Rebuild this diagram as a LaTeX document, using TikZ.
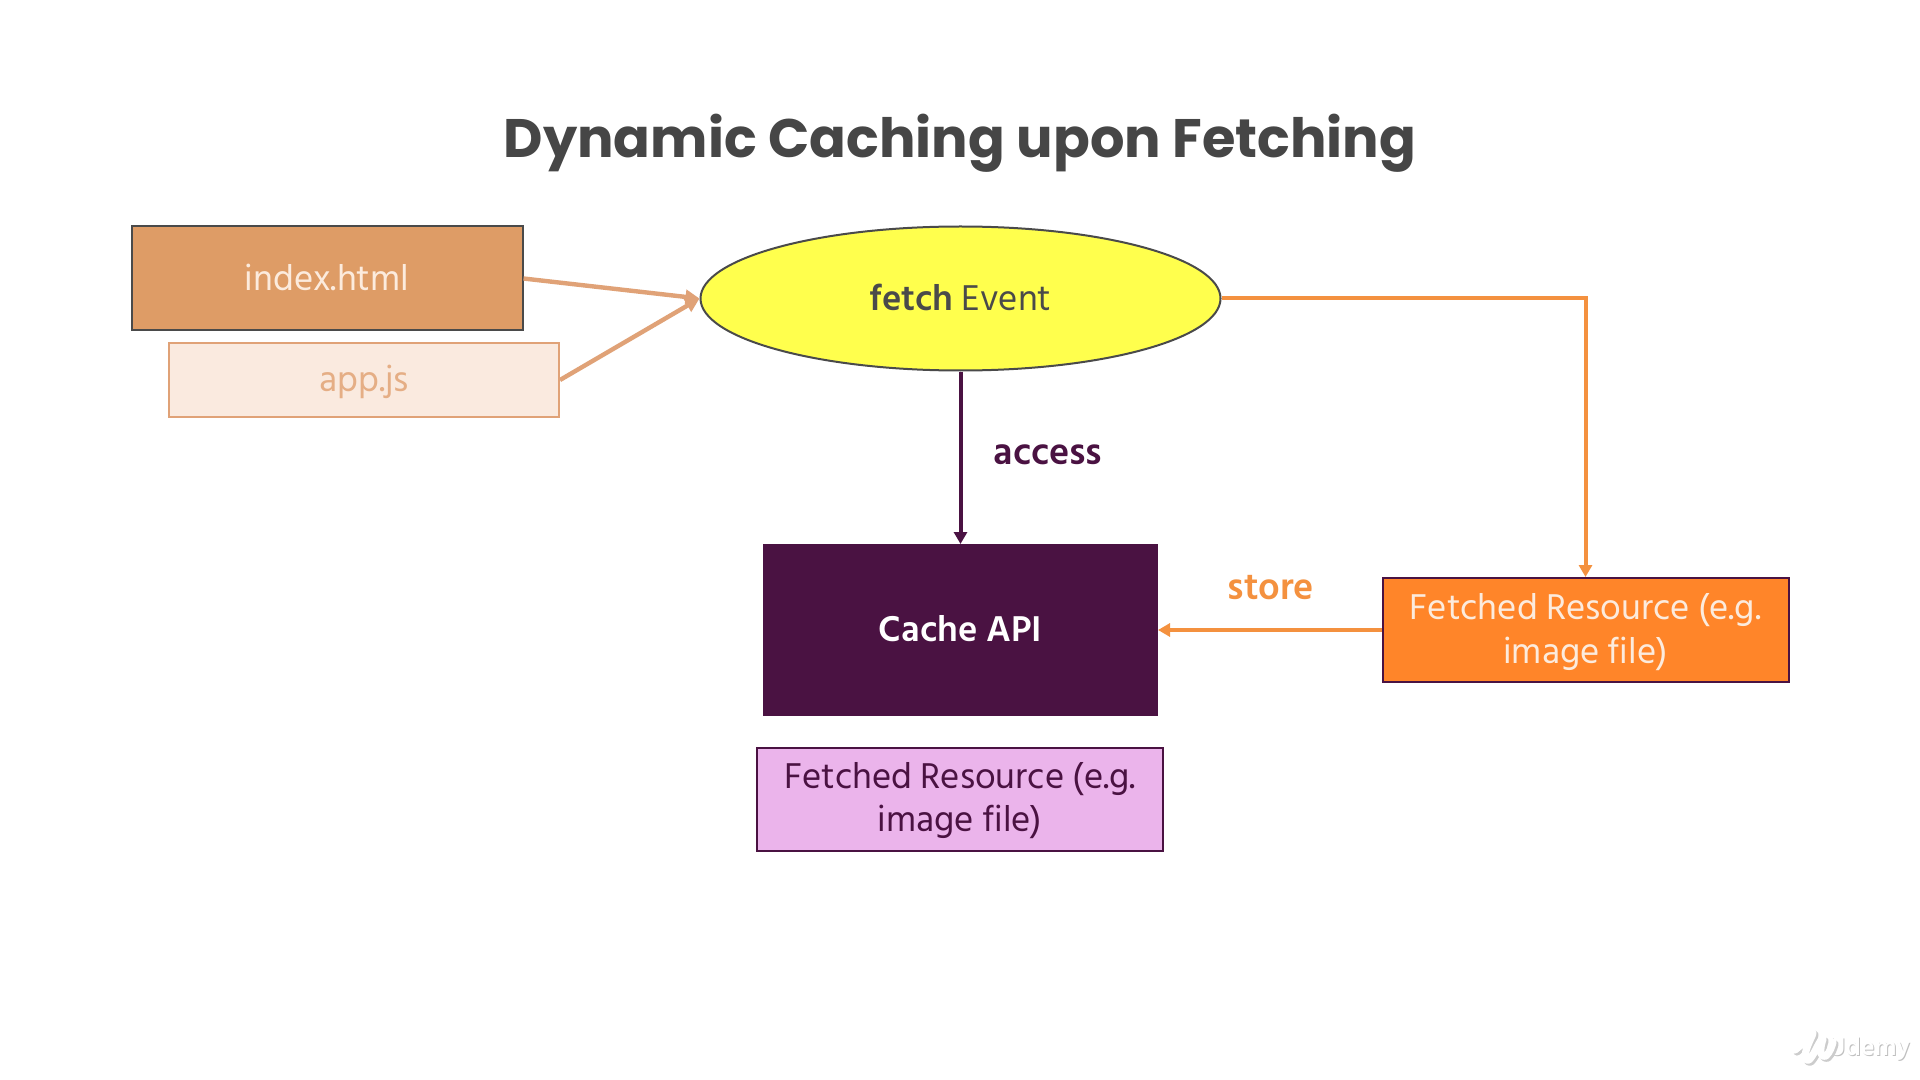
\documentclass[tikz,border=0pt]{standalone}
\usepackage{fontspec}
\usetikzlibrary{arrows.meta,shapes.geometric,calc,shadows}
\setmainfont{Hind Siliguri}
\newfontfamily\titlefont{Poppins}
\newcommand{\liftby}[2]{\smash{\raisebox{#1}{#2}}}
\definecolor{peach}{HTML}{DE9C66}
\definecolor{peachline}{HTML}{E0A277}
\definecolor{paleback}{HTML}{FAEADF}
\definecolor{paletext}{HTML}{E5AE85}
\definecolor{lemon}{HTML}{FFFF4D}
\definecolor{plum}{HTML}{4A1242}
\definecolor{pinkfill}{HTML}{EBB4EB}
\definecolor{orangefill}{HTML}{FF8529}
\definecolor{orangeline}{HTML}{F4913F}
\definecolor{greyline}{HTML}{4A4A4A}
\definecolor{softwhite}{HTML}{FCEBDD}
\tikzset{
  box/.style={rectangle,inner sep=0pt,align=center,font=\fontsize{18.4}{21.8}\selectfont,line width=1pt},
  peachcon/.style={draw=peachline,line width=2.2pt,-{Triangle[length=7pt,width=7pt]}},
  orangecon/.style={draw=orangeline,line width=2pt,-{Triangle[length=6pt,width=6.5pt]}},
  plumcon/.style={draw=plum,line width=2pt,-{Triangle[length=6pt,width=6.5pt]}},
  caption/.style={inner sep=0pt,font=\fontsize{19.2}{22}\selectfont\bfseries}
}
\begin{document}
\begin{tikzpicture}[x=0.5pt,y=-0.5pt]
\useasboundingbox (0,0) rectangle (1920,1080);
\fill[white] (0,0) rectangle (1920,1080);
\node[inner sep=0pt,text=greyline!95!black] (title) at (960,143) {\titlefont\fontsize{27.1}{32}\selectfont\bfseries Dynamic Caching upon Fetching};
\node[box,draw=greyline,fill=peach,text=softwhite,minimum width=195.5pt,minimum height=52pt] (index) at (327,278.5) {\liftby{-6pt}{index.html}};
\node[box,draw=peachline,fill=paleback,text=paletext,minimum width=195pt,minimum height=36.5pt] (app) at (364,380) {\liftby{-5.6pt}{app.js}};
\node[ellipse,draw=greyline,fill=lemon,line width=1pt,inner sep=0pt,minimum width=260pt,minimum height=72pt,font=\fontsize{18.4}{22}\selectfont,text=greyline] (fetch) at (960.5,298.5) {\liftby{-5.8pt}{\textbf{fetch} Event}};
\node[box,draw=plum,fill=plum,text=white,minimum width=196.5pt,minimum height=85pt,font=\fontsize{18.4}{22}\selectfont\bfseries] (cache) at (960.5,630) {\liftby{-5.5pt}{Cache API}};
\node[box,draw=plum,fill=pinkfill,text=plum,minimum width=203pt,minimum height=51.5pt] (stored) at (960,799.5) {\liftby{-4.9pt}{\parbox{203pt}{\centering Fetched Resource (e.g.\\image file)}}};
\node[box,draw=plum,fill=orangefill,text=softwhite,minimum width=203pt,minimum height=52pt] (fetched) at (1585.5,630) {\liftby{-5.5pt}{\parbox{203pt}{\centering Fetched Resource (e.g.\\image file)}}};
\draw[peachcon] (index.east) -- (fetch.west);
\draw[peachcon] (app.east) -- (fetch.west);
\draw[plumcon] (fetch.south) -- (cache.north);
\draw[orangecon] (fetch.east) -| (fetched.north);
\draw[orangecon] (fetched.west) -- (cache.east);
\node[caption,text=plum] (accesslabel) at (1048,455) {access};
\node[caption,text=orangeline] (storelabel) at (1271,588) {store};
% watermark
\node[inner sep=0pt,text=black!25,font=\fontsize{13}{15}\selectfont\bfseries] (udemyshade) at (1870,1050) {Udemy};
\node[inner sep=0pt,text=white,font=\fontsize{13}{15}\selectfont\bfseries] (udemy) at (1869,1048.5) {Udemy};
\draw[black!20,line width=3.6pt,line cap=round,line join=round] (1797,1052) .. controls (1808,1044) and (1818,1026) .. (1814,1038) .. controls (1807,1052) and (1804,1064) .. (1811,1062) .. controls (1817,1056) and (1821,1042) .. (1825,1041) .. controls (1822,1050) and (1821,1060) .. (1828,1058) .. controls (1832,1054) and (1834,1048) .. (1835,1044);
\draw[white,line width=3.6pt,line cap=round,line join=round] (1795,1050) .. controls (1806,1042) and (1816,1024) .. (1812,1036) .. controls (1805,1050) and (1802,1062) .. (1809,1060) .. controls (1815,1054) and (1819,1040) .. (1823,1039) .. controls (1820,1048) and (1819,1058) .. (1826,1056) .. controls (1830,1052) and (1832,1046) .. (1833,1042);
\end{tikzpicture}
\end{document}
